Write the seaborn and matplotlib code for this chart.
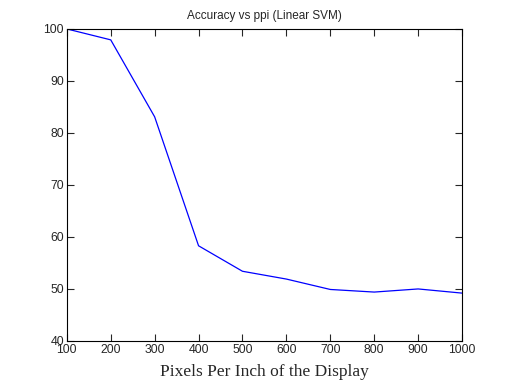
import matplotlib
matplotlib.use("Agg")
import matplotlib.pyplot as plt
import pandas as pd
import seaborn as sns

ppi = [100, 200, 300, 400, 500, 600, 700, 800, 900, 1000]
accuracy = [100.0, 97.9, 83.1, 58.3, 53.4, 51.9, 49.9, 49.4, 50.0, 49.2]

sns.set_style("white")
plt.rcParams["font.family"] = ["Liberation Sans", "DejaVu Sans"]

df = pd.DataFrame({"ppi": ppi, "accuracy": accuracy})

fig = plt.figure(figsize=(5.1, 3.91), dpi=100)
ax = fig.add_axes([0.131, 0.128, 0.775, 0.798])
sns.lineplot(data=df, x="ppi", y="accuracy", color="#0000ff", lw=0.9, ax=ax)

ax.set_xlim(100, 1000)
ax.set_ylim(40, 100)
ax.set_xticks(ppi)
ax.set_yticks(range(40, 101, 10))
ax.tick_params(direction="in", length=5, width=0.8, labelsize=8.8,
               top=True, right=True, bottom=True, left=True, pad=2)
for s in ax.spines.values():
    s.set_visible(True)
    s.set_color("black")
    s.set_linewidth(0.8)

ax.set_title("Accuracy vs ppi (Linear SVM)", fontsize=8.5, pad=7)
ax.set_xlabel("Pixels Per Inch of the Display", fontsize=12.5,
              family=["Liberation Serif", "DejaVu Serif"], labelpad=6)
ax.set_ylabel("")

fig.savefig("out.png", dpi=100)
